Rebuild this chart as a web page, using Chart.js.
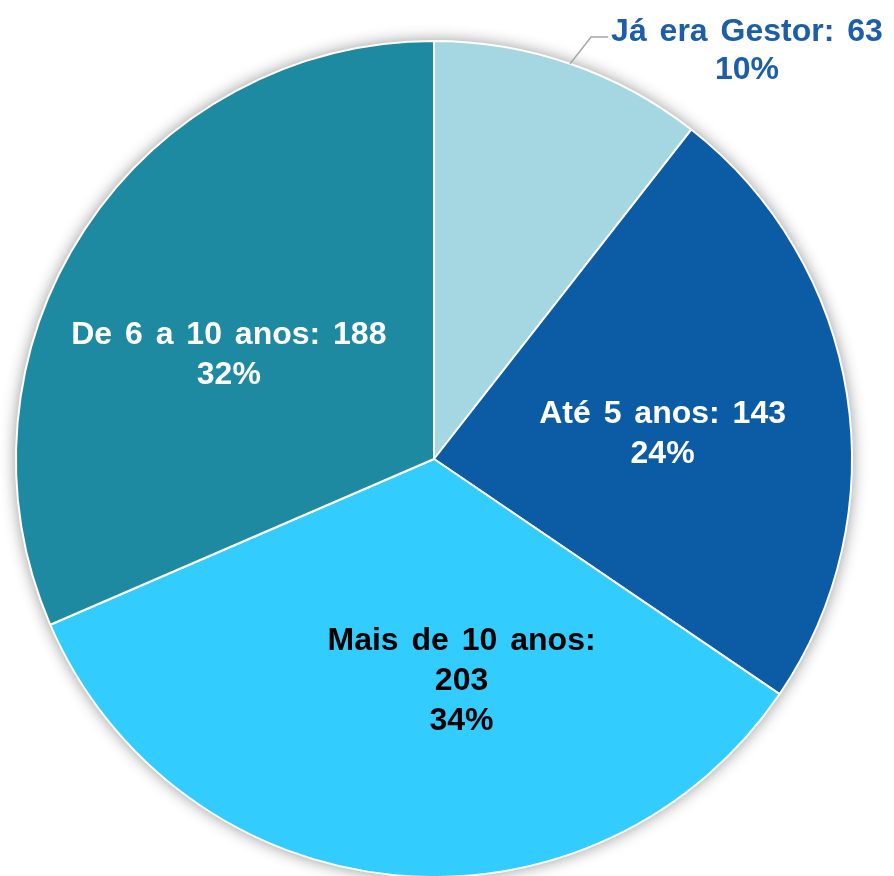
<!DOCTYPE html>
<html>
<head>
<meta charset="utf-8">
<script src="https://cdn.jsdelivr.net/npm/chart.js@4/dist/chart.umd.min.js"></script>
<style>
  html, body { margin: 0; padding: 0; background: #fff; }
  #wrap { width: 894px; height: 876px; }
</style>
</head>
<body>
<div id="wrap"><canvas id="pie"></canvas></div>
<script>
// datos del grafico
const categorias = ['Já era Gestor', 'Até 5 anos', 'Mais de 10 anos', 'De 6 a 10 anos'];
const valores = [63, 143, 203, 188];
const porcentajes = ['10%', '24%', '34%', '32%'];
const colores = ['#A5D7E3', '#0B5CA5', '#33CCFF', '#1D8AA2'];
const coloresTexto = ['#1C5EA8', '#FFFFFF', '#000000', '#FFFFFF'];

// lineas de cada etiqueta
const lineas = [
  [categorias[0] + ': ' + valores[0], porcentajes[0]],
  [categorias[1] + ': ' + valores[1], porcentajes[1]],
  [categorias[2] + ':', String(valores[2]), porcentajes[2]],
  [categorias[3] + ': ' + valores[3], porcentajes[3]]
];
// posicion de la etiqueta: desplazamiento de angulo (grados) y fraccion del radio
const ajusteEtiqueta = [
  { da: 18.5, f: 1.23 },
  { da: 2.8, f: 0.55 },
  { da: -12.5, f: 0.535 },
  { da: -6.5, f: 0.55 }
];

// sombra suave detras del pastel
const sombra = {
  id: 'sombra',
  beforeDatasetsDraw(chart) {
    const arc = chart.getDatasetMeta(0).data[0];
    const ctx = chart.ctx;
    ctx.save();
    ctx.shadowColor = 'rgba(0,0,0,0.45)';
    ctx.shadowBlur = 16;
    ctx.fillStyle = '#fff';
    ctx.beginPath();
    ctx.arc(arc.x, arc.y, arc.outerRadius, 0, Math.PI * 2);
    ctx.fill();
    ctx.restore();
  }
};

// etiquetas de texto
const etiquetas = {
  id: 'etiquetas',
  afterDatasetsDraw(chart) {
    const ctx = chart.ctx;
    const meta = chart.getDatasetMeta(0);
    ctx.save();
    ctx.font = 'bold 32px "Liberation Sans", Arial, sans-serif';
    ctx.textAlign = 'center';
    ctx.textBaseline = 'middle';
    if ('wordSpacing' in ctx) ctx.wordSpacing = '4px';
    meta.data.forEach((arc, i) => {
      const mid = (arc.startAngle + arc.endAngle) / 2;
      const a = mid + ajusteEtiqueta[i].da * Math.PI / 180;
      const r = arc.outerRadius * ajusteEtiqueta[i].f;
      const cx = arc.x + Math.cos(a) * r;
      const cy = arc.y + Math.sin(a) * r;
      const ls = lineas[i];
      const lh = i === 0 ? 38 : 40;
      const y0 = cy - (ls.length - 1) * lh / 2;

      if (i === 0) {
        // linea guia
        const ex = arc.x + Math.cos(mid) * arc.outerRadius;
        const ey = arc.y + Math.sin(mid) * arc.outerRadius;
        const w = ctx.measureText(ls[0]).width;
        const tx = cx - w / 2 - 3;
        ctx.strokeStyle = '#A6A6A6';
        ctx.lineWidth = 1.5;
        ctx.beginPath();
        ctx.moveTo(ex, ey);
        ctx.lineTo(tx - 17, y0 + 5);
        ctx.lineTo(tx, y0 + 5);
        ctx.stroke();
      }

      ctx.fillStyle = coloresTexto[i];
      ls.forEach((t, k) => ctx.fillText(t, cx, y0 + k * lh));
    });
    ctx.restore();
  }
};

new Chart(document.getElementById('pie'), {
  type: 'pie',
  data: {
    labels: categorias,
    datasets: [{
      data: valores,
      backgroundColor: colores,
      borderColor: '#FFFFFF',
      borderWidth: 2,
      radius: 418
    }]
  },
  options: {
    responsive: true,
    maintainAspectRatio: false,
    animation: false,
    layout: { padding: { left: 16, right: 42, top: 42, bottom: 0 } },
    plugins: {
      legend: { display: false },
      tooltip: { enabled: false }
    }
  },
  plugins: [sombra, etiquetas]
});
</script>
</body>
</html>
